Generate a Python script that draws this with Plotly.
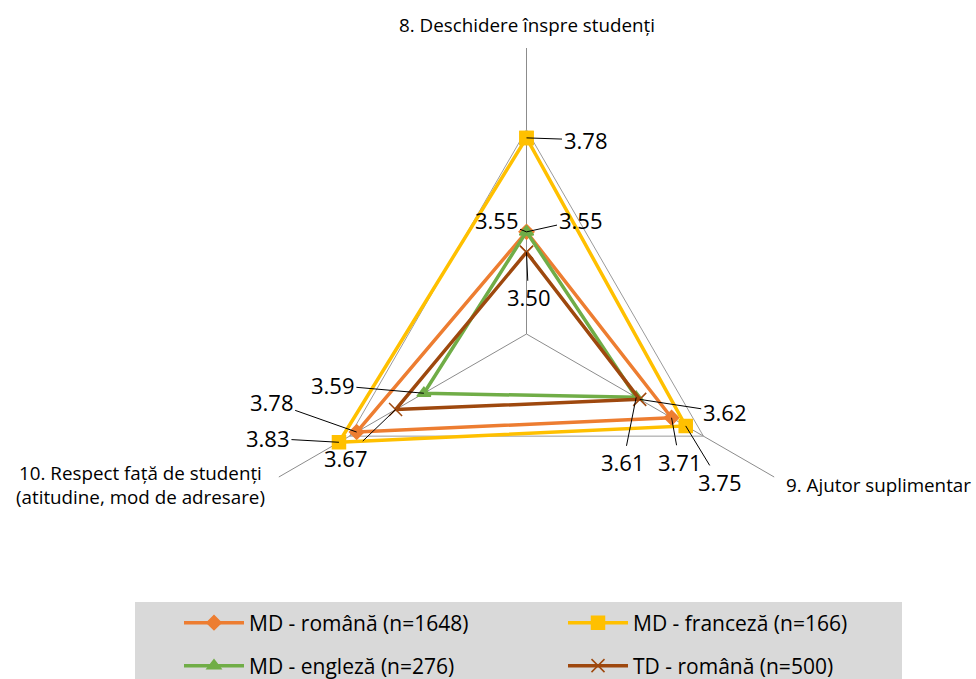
import math
import plotly.graph_objects as go

# ---- data ----
categories = ["8. Deschidere înspre studenți", "9. Ajutor suplimentar",
              "10. Respect față de studenți (atitudine, mod de adresare)"]
series_names = ["MD - română (n=1648)", "MD - franceză (n=166)",
                "MD - engleză (n=276)", "TD - română (n=500)"]
md_romana = [3.55, 3.71, 3.78]
md_franceza = [3.78, 3.75, 3.83]
md_engleza = [3.55, 3.61, 3.59]
td_romana = [3.50, 3.62, 3.67]

values = [md_romana, md_franceza, md_engleza, td_romana]
colors = ["#ED7D31", "#FFC000", "#70AD47", "#9E480E"]
symbols = ["diamond", "square", "triangle-up", "x-thin"]
msizes = [11, 13, 12, 13]
legend_ids = ["legend", "legend", "legend2", "legend2"]

W, H = 976, 679
FONT = "Open Sans"
RMIN, RMAX = 3.3, 4.0
CX, CY, RPX = 526.5, 334.0, 286.0

fig = go.Figure()
for name, vals, col, sym, ms, lg in zip(series_names, values, colors, symbols, msizes, legend_ids):
    fig.add_trace(go.Scatterpolar(
        r=vals + vals[:1], theta=categories + categories[:1], name=name,
        mode="lines+markers",
        line=dict(color=col, width=3.5),
        marker=dict(symbol=sym, size=ms, color=col, line=dict(color=col, width=1.5)),
        legend=lg,
    ))

# data labels with leader lines: offsets of text centre from the point (pixels)
label_offsets = [
    [(-30, -12), (8, 44), (-85, -30)],        # MD română
    [(59, 2), (34, 56), (-71, -4)],           # MD franceză
    [(54, -12), (-13, 65), (-91, -8)],        # MD engleză
    [(2, 45), (85, 13), (-50, 48)],           # TD română
]
annotations = []
for vals, offs in zip(values, label_offsets):
    for i, (v, (dx, dy)) in enumerate(zip(vals, offs)):
        ang = math.radians(90 - 120 * i)
        rp = (v - RMIN) / (RMAX - RMIN) * RPX
        px = CX + rp * math.cos(ang)
        py = CY - rp * math.sin(ang)
        annotations.append(dict(
            x=px / W, y=1 - py / H, xref="paper", yref="paper",
            text=f"{v:.2f}", showarrow=True, arrowhead=0, arrowwidth=1,
            arrowcolor="#000000", ax=dx, ay=dy, standoff=0,
            font=dict(family=FONT, size=22, color="#000000"),
        ))

# category labels
CAT_SIZE = 18.8
annotations += [
    dict(x=527 / W, y=1 - 25 / H, xref="paper", yref="paper", showarrow=False,
         text=categories[0], xanchor="center", yanchor="middle",
         font=dict(family=FONT, size=CAT_SIZE, color="#000000")),
    dict(x=784 / W, y=1 - 485 / H, xref="paper", yref="paper", showarrow=False,
         text=categories[1], xanchor="left", yanchor="middle",
         font=dict(family=FONT, size=CAT_SIZE, color="#000000")),
    dict(x=140 / W, y=1 - 485 / H, xref="paper", yref="paper", showarrow=False,
         text="10. Respect față de studenți<br>(atitudine, mod de adresare)",
         xanchor="center", yanchor="middle", align="center",
         font=dict(family=FONT, size=CAT_SIZE, color="#000000")),
]

legend_common = dict(orientation="h", bgcolor="rgba(0,0,0,0)", xanchor="left",
                     yanchor="middle", entrywidth=309, entrywidthmode="pixels",
                     itemwidth=60, font=dict(family=FONT, size=21, color="#000000"),
                     traceorder="normal", itemclick=False, itemdoubleclick=False)

fig.update_layout(
    width=W, height=H,
    margin=dict(l=0, r=0, t=0, b=0, autoexpand=False),
    paper_bgcolor="white",
    font=dict(family=FONT),
    polar=dict(
        domain=dict(x=[(CX - RPX) / W, (CX + RPX) / W], y=[1 - (CY + RPX) / H, 1 - (CY - RPX) / H]),
        bgcolor="white",
        gridshape="linear",
        radialaxis=dict(range=[RMIN, RMAX], tickvals=[3.8], showticklabels=False,
                        showline=False, ticks="", gridcolor="#9a9a9a", gridwidth=1),
        angularaxis=dict(rotation=90, direction="clockwise", showticklabels=False,
                         showline=False, ticks="", gridcolor="#8c8c8c", gridwidth=1),
    ),
    legend=dict(x=179 / W, y=1 - 623 / H, **legend_common),
    legend2=dict(x=179 / W, y=1 - 666 / H, **legend_common),
    annotations=annotations,
    shapes=[dict(type="rect", xref="paper", yref="paper", x0=135 / W, x1=902 / W,
                 y0=-0.05, y1=1 - 602 / H, fillcolor="#D9D9D9", line=dict(width=0),
                 layer="below")],
)

fig.write_html("out.html", config={"displayModeBar": False},
               post_script="document.body.style.margin='0';document.body.style.overflow='hidden';")
